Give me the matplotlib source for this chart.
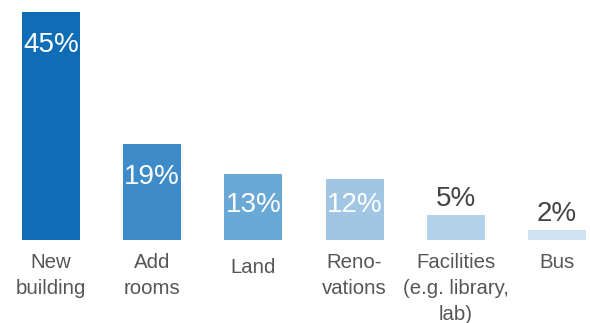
import matplotlib
matplotlib.use("Agg")
import matplotlib.pyplot as plt

plt.rcParams["font.family"] = ["Liberation Sans", "DejaVu Sans"]

# Share of spending by category (percent)
categories = ["New\nbuilding", "Add\nrooms", "Land", "Reno-\nvations",
              "Facilities\n(e.g. library,\nlab)", "Bus"]
shares = [45, 19, 13, 12, 5, 2]
bar_colors = ["#0f6db5", "#3d8bc8", "#6aa8d6", "#a0c6e3", "#b4d3ea", "#cfe2f2"]

DPI = 100
fig = plt.figure(figsize=(5.9, 3.23), dpi=DPI)
ax = fig.add_axes([0, 83 / 323, 1, 228 / 323])

x = list(range(len(shares)))
ax.bar(x, shares, width=0.573, color=bar_colors)
ax.set_xlim(-0.504, 5.326)
ax.set_ylim(0, 45)
ax.axis("off")

px_per_unit = 228 / 45

for xi, val in zip(x, shares):
    bar_px = val * px_per_unit
    if bar_px > 45:
        # label sits inside the bar, in white
        center_px = max(bar_px - 33, 35)
        ax.annotate(f"{val}%", (xi, 0), xytext=(0, center_px * 72 / DPI),
                    textcoords="offset points", ha="center", va="center",
                    color="white", fontsize=20)
    else:
        # short bars get the label above them
        ax.annotate(f"{val}%", (xi, val), xytext=(0, 9 * 72 / DPI),
                    textcoords="offset points", ha="center", va="baseline",
                    color="#444444", fontsize=20)

for xi, name in zip(x, categories):
    drop = 18 if name == "Land" else 13
    ax.annotate(name, (xi, 0), xytext=(0, -drop * 72 / DPI),
                textcoords="offset points", ha="center", va="top",
                color="#555555", fontsize=14.7, linespacing=1.45,
                annotation_clip=False)

fig.savefig("out.png", dpi=DPI)
